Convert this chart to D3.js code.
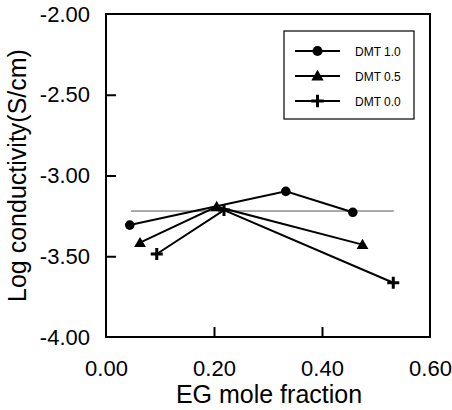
<!DOCTYPE html>
<html><head><meta charset="utf-8">
<script src="https://cdn.jsdelivr.net/npm/d3@7"></script>
<style>body{margin:0;background:#fff}svg{display:block}text{font-family:Arial,"Liberation Sans",sans-serif;fill:#000}</style>
</head><body><svg id="c" width="452" height="410"></svg>
<script>
const xTicks = [0, 0.2, 0.4, 0.6];
const yTicks = [-2, -2.5, -3, -3.5, -4];
const seriesNames = ["DMT 1.0", "DMT 0.5", "DMT 0.0"];
const dmt10 = [[0.044, -3.307], [0.333, -3.098], [0.457, -3.228]];
const dmt05 = [[0.063, -3.416], [0.205, -3.193], [0.475, -3.428]];
const dmt00 = [[0.094, -3.486], [0.2185, -3.214], [0.532, -3.664]];
const refLine = [[0.046, -3.22], [0.533, -3.22]];

const svg = d3.select("#c");
const L = 106, R = 430, T = 14, B = 337;
const x = d3.scaleLinear().domain([0, 0.6]).range([L, R]);
const y = d3.scaleLinear().domain([-4, -2]).range([B, T]);
const fmt = d => d.toFixed(2);

// frame
svg.append("rect").attr("x", L).attr("y", T).attr("width", R - L).attr("height", B - T)
  .attr("fill", "none").attr("stroke", "#000").attr("stroke-width", 2);

// axes (ticks inward)
const xAxis = svg.append("g").attr("transform", `translate(0,${B})`)
  .call(d3.axisBottom(x).tickValues(xTicks).tickSize(-10).tickPadding(23).tickFormat(fmt));
const yAxis = svg.append("g").attr("transform", `translate(${L},0)`)
  .call(d3.axisLeft(y).tickValues(yTicks).tickSize(-10).tickPadding(16).tickFormat(fmt));
[xAxis, yAxis].forEach(g => {
  g.select(".domain").remove();
  g.selectAll(".tick line").attr("stroke", "#000").attr("stroke-width", 2);
  g.selectAll(".tick text").attr("font-size", 22).attr("font-family", "Arial, 'Liberation Sans', sans-serif").attr("fill", "#000");
});
xAxis.selectAll(".tick line").filter(d => d === 0 || d === 0.6).remove();
yAxis.selectAll(".tick line").filter(d => d === -2 || d === -4).remove();

// titles
svg.append("text").attr("x", (L + R) / 2 + 1).attr("y", 403).attr("text-anchor", "middle")
  .attr("font-size", 25).text("EG mole fraction");
svg.append("text").attr("transform", `translate(26,${(T + B) / 2}) rotate(-90)`).attr("text-anchor", "middle")
  .attr("font-size", 25).text("Log conductivity(S/cm)");

// reference line
const line = d3.line().x(d => x(d[0])).y(d => y(d[1]));
svg.append("path").attr("d", line(refLine)).attr("stroke", "#555").attr("stroke-width", 1).attr("fill", "none");

const series = [dmt10, dmt05, dmt00];
const markers = ["circle", "triangle", "cross"];
function drawMarker(g, type, cx, cy, s) {
  if (type === "circle") {
    g.append("circle").attr("cx", cx).attr("cy", cy).attr("r", 4.8 * s).attr("fill", "#000");
  } else if (type === "triangle") {
    g.append("path").attr("d", d3.symbol(d3.symbolTriangle, 60 * s * s)()).attr("transform", `translate(${cx},${cy + 1})`).attr("fill", "#000");
  } else {
    const a = 6 * s;
    g.append("path").attr("d", `M${cx - a},${cy}H${cx + a}M${cx},${cy - a}V${cy + a}`)
      .attr("stroke", "#000").attr("stroke-width", 3).attr("fill", "none");
  }
}
series.forEach((data, i) => {
  svg.append("path").attr("d", line(data)).attr("stroke", "#000").attr("stroke-width", 2).attr("fill", "none");
  const g = svg.append("g");
  data.forEach(d => drawMarker(g, markers[i], x(d[0]), y(d[1]), 1));
});

// legend
const lg = svg.append("g");
lg.append("rect").attr("x", 284).attr("y", 31).attr("width", 130).attr("height", 88)
  .attr("fill", "#fff").attr("stroke", "#000").attr("stroke-width", 1.2);
seriesNames.forEach((name, i) => {
  const yy = 51 + i * 25;
  lg.append("line").attr("x1", 295).attr("x2", 340).attr("y1", yy).attr("y2", yy).attr("stroke", "#000").attr("stroke-width", 2);
  drawMarker(lg, markers[i], 317.5, yy, 1.05);
  lg.append("text").attr("x", 355).attr("y", yy + 4.5).attr("font-size", 12).text(name);
});
</script></body></html>
